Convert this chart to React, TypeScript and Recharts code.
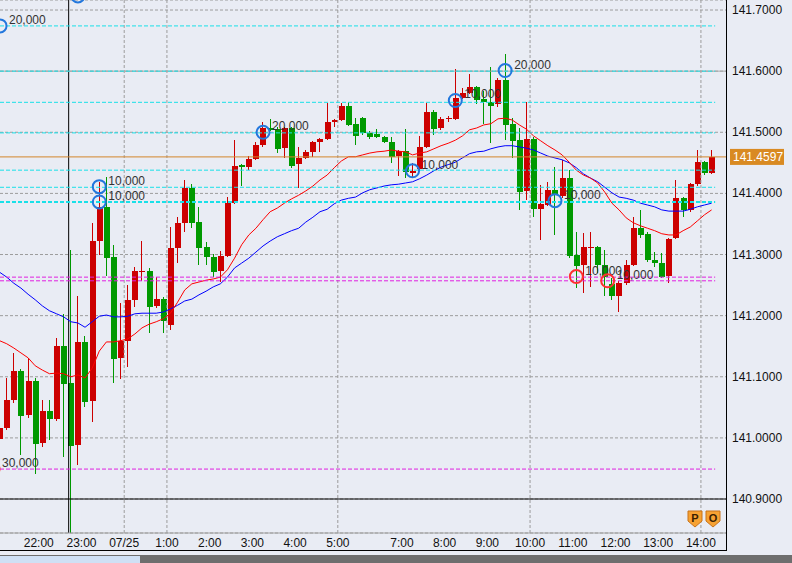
import React from "react";
import {
  ComposedChart,
  Bar,
  Line,
  XAxis,
  YAxis,
  CartesianGrid,
  ReferenceLine,
  ReferenceDot,
} from "recharts";

// 10-minute USD/JPY-style candles, 07/24 21:10 .. 07/25 14:20
const OPEN = [
  140.998, 141.016, 141.062, 141.109, 141.038, 141.093, 140.992, 141.044, 141.031, 141.15,
  141.09, 140.988, 141.157, 141.06, 141.322, 141.378, 141.296, 141.131, 141.159, 141.226,
  141.271, 141.273, 141.216, 141.227, 141.185, 141.311, 141.352, 141.409, 141.353, 141.312,
  141.296, 141.273, 141.298, 141.384, 141.447, 141.443, 141.456, 141.479, 141.507, 141.505,
  141.474, 141.507, 141.448, 141.458, 141.468, 141.484, 141.489, 141.517, 141.52, 141.543,
  141.514, 141.523, 141.499, 141.497, 141.492, 141.484, 141.461, 141.469, 141.433, 141.44,
  141.476, 141.533, 141.507, 141.522, 141.522, 141.556, 141.564, 141.574, 141.554, 141.55,
  141.546, 141.586, 141.514, 141.487, 141.404, 141.489, 141.374, 141.381, 141.406, 141.396,
  141.425, 141.299, 141.283, 141.311, 141.312, 141.283, 141.252, 141.232, 141.253, 141.283,
  141.343, 141.334, 141.291, 141.286, 141.265, 141.327, 141.392, 141.373, 141.415, 141.451,
  141.433,
];
const HIGH = [
  141.019, 141.098, 141.139, 141.113, 141.131, 141.098, 141.062, 141.062, 141.163, 141.203,
  141.307, 141.232, 141.167, 141.352, 141.419, 141.427, 141.316, 141.221, 141.25, 141.28,
  141.322, 141.278, 141.263, 141.231, 141.345, 141.361, 141.422, 141.415, 141.378, 141.32,
  141.301, 141.306, 141.394, 141.487, 141.448, 141.461, 141.484, 141.517, 141.522, 141.509,
  141.509, 141.509, 141.476, 141.471, 141.486, 141.491, 141.548, 141.522, 141.548, 141.55,
  141.523, 141.525, 141.502, 141.505, 141.494, 141.492, 141.471, 141.505, 141.45, 141.494,
  141.548, 141.536, 141.525, 141.527, 141.604, 141.572, 141.595, 141.576, 141.568, 141.607,
  141.589, 141.628, 141.523, 141.507, 141.55, 141.492, 141.414, 141.419, 141.443, 141.455,
  141.438, 141.337, 141.335, 141.337, 141.314, 141.307, 141.262, 141.257, 141.291, 141.361,
  141.373, 141.337, 141.304, 141.302, 141.327, 141.422, 141.394, 141.417, 141.471, 141.453,
  141.471,
];
const LOW = [
  140.995, 141.013, 141.057, 140.972, 141.033, 140.941, 140.985, 140.997, 141.028, 140.969,
  140.845, 140.956, 141.051, 141.026, 141.299, 141.265, 141.09, 141.096, 141.116, 141.214,
  141.257, 141.172, 141.212, 141.172, 141.177, 141.286, 141.337, 141.343, 141.283, 141.283,
  141.263, 141.255, 141.296, 141.383, 141.412, 141.438, 141.455, 141.476, 141.502, 141.466,
  141.458, 141.442, 141.409, 141.456, 141.46, 141.468, 141.487, 141.509, 141.518, 141.51,
  141.479, 141.496, 141.489, 141.491, 141.482, 141.45, 141.428, 141.425, 141.427, 141.438,
  141.474, 141.496, 141.504, 141.517, 141.52, 141.554, 141.563, 141.546, 141.514, 141.482,
  141.541, 141.487, 141.458, 141.373, 141.389, 141.361, 141.324, 141.379, 141.332, 141.392,
  141.294, 141.245, 141.237, 141.247, 141.27, 141.232, 141.226, 141.206, 141.25, 141.281,
  141.327, 141.288, 141.28, 141.262, 141.253, 141.325, 141.361, 141.37, 141.412, 141.43,
  141.432,
];
const CLOSE = [
  141.016, 141.062, 141.109, 141.036, 141.093, 140.99, 141.044, 141.031, 141.15, 141.088,
  140.987, 141.157, 141.059, 141.322, 141.378, 141.294, 141.129, 141.159, 141.226, 141.273,
  141.273, 141.214, 141.227, 141.191, 141.311, 141.352, 141.409, 141.352, 141.311, 141.296,
  141.271, 141.298, 141.384, 141.445, 141.443, 141.456, 141.479, 141.507, 141.504, 141.473,
  141.507, 141.445, 141.458, 141.468, 141.484, 141.489, 141.517, 141.52, 141.543, 141.512,
  141.494, 141.499, 141.492, 141.492, 141.484, 141.46, 141.469, 141.435, 141.437, 141.476,
  141.533, 141.505, 141.522, 141.523, 141.556, 141.564, 141.574, 141.553, 141.55, 141.543,
  141.586, 141.512, 141.486, 141.402, 141.489, 141.374, 141.383, 141.406, 141.399, 141.425,
  141.298, 141.281, 141.312, 141.312, 141.283, 141.263, 141.232, 141.253, 141.283, 141.343,
  141.332, 141.291, 141.286, 141.263, 141.325, 141.392, 141.373, 141.415, 141.451, 141.433,
  141.4597,
];
// moving averages
const MA_FAST = [
  141.159, 141.154, 141.147, 141.139, 141.131, 141.118, 141.111, 141.105, 141.106, 141.105,
  141.1, 141.103, 141.098, 141.114, 141.142, 141.157, 141.157, 141.159, 141.162, 141.17,
  141.18, 141.186, 141.19, 141.195, 141.204, 141.222, 141.242, 141.252, 141.255, 141.258,
  141.26, 141.263, 141.275, 141.294, 141.316, 141.332, 141.343, 141.357, 141.37, 141.376,
  141.384, 141.391, 141.397, 141.404, 141.412, 141.422, 141.43, 141.442, 141.453, 141.46,
  141.46, 141.463, 141.466, 141.468, 141.469, 141.471, 141.469, 141.468, 141.463, 141.466,
  141.468, 141.473, 141.478, 141.482, 141.487, 141.494, 141.504, 141.507, 141.512, 141.514,
  141.522, 141.523, 141.52, 141.512, 141.505, 141.494, 141.486, 141.478, 141.471, 141.463,
  141.451, 141.438, 141.43, 141.425, 141.417, 141.402, 141.384, 141.373, 141.36, 141.352,
  141.347, 141.343, 141.339, 141.334, 141.332, 141.332, 141.339, 141.345, 141.355, 141.365,
  141.373,
];
const MA_SLOW = [
  141.271, 141.263, 141.253, 141.245, 141.235, 141.226, 141.216, 141.208, 141.203, 141.198,
  141.19, 141.188, 141.181, 141.19, 141.199, 141.201, 141.198, 141.198, 141.199, 141.203,
  141.204, 141.204, 141.204, 141.206, 141.211, 141.217, 141.224, 141.227, 141.234, 141.24,
  141.247, 141.252, 141.263, 141.278, 141.286, 141.294, 141.304, 141.314, 141.322, 141.329,
  141.334, 141.339, 141.343, 141.353, 141.361, 141.37, 141.374, 141.383, 141.389, 141.392,
  141.394, 141.401, 141.406, 141.409, 141.412, 141.414, 141.415, 141.417, 141.419, 141.424,
  141.43, 141.437, 141.443, 141.447, 141.451, 141.458, 141.465, 141.468, 141.469, 141.473,
  141.476, 141.478, 141.478, 141.476, 141.474, 141.471, 141.466, 141.461, 141.458, 141.455,
  141.45, 141.442, 141.432, 141.425, 141.419, 141.41, 141.401, 141.394, 141.392, 141.389,
  141.384, 141.381, 141.378, 141.373, 141.371, 141.371, 141.371, 141.374, 141.378, 141.381,
  141.384,
];

const TIME_TICKS = [5.5, 11.5, 17.5, 23.5, 29.5, 35.5, 41.5, 47.5, 56.5, 62.5, 68.5, 74.5, 80.5, 86.5, 92.5, 98.5];
const TIME_LABELS = ["22:00", "23:00", "07/25", "1:00", "2:00", "3:00", "4:00", "5:00", "7:00", "8:00", "9:00", "10:00", "11:00", "12:00", "13:00", "14:00"];
const GRID_X = [17.5, 23.5, 47.5, 74.5, 98.5];
const DAY_SEPARATOR = 9.7;
const PRICE_TICKS = [140.9, 141.0, 141.1, 141.2, 141.3, 141.4, 141.5, 141.6, 141.7];

const CYAN_LEVELS = [141.674, 141.6, 141.549, 141.499, 141.438, 141.41];
const CYAN_BOLD = 141.386;
const MAGENTA_LEVELS = [141.263, 141.257, 140.949];
const HLINE_SOLID = 141.6;
const FLOOR_LINE = 140.9;
const LAST_PRICE = 141.4597;

// trade markers
const TRADE_AT = [0.06, 11, 14, 14, 37, 58, 64, 71, 78, 81, 85.4, -0.93];
const TRADE_PRICE = [141.674, 141.723, 141.411, 141.386, 141.5, 141.437, 141.552, 141.601, 141.388, 141.264, 141.257, 140.949];
const TRADE_QTY = ["20,000", "", "10,000", "10,000", "20,000", "10,000", "10,000", "20,000", "10,000", "10,000", "10,000", "30,000"];
const TRADE_SIDE = ["b", "b", "b", "b", "b", "b", "b", "b", "b", "s", "s", "s"];

const X_MIN = 0.056;
const X_MAX = 102.02;
const Y_MIN = 140.8444;
const Y_MAX = 141.7164;
const LINE_END = 100.5;

const FONT = "'Liberation Sans', Arial, sans-serif";
const UP = "#CC0000";
const DOWN = "#009900";
const CYAN = "#19E0E8";
const MAGENTA = "#E020E0";

const rows = OPEN.map((o, i) => ({
  i,
  range: [LOW[i], HIGH[i]],
  open: o,
  high: HIGH[i],
  low: LOW[i],
  close: CLOSE[i],
  fast: MA_FAST[i],
  slow: MA_SLOW[i],
}));

function Candle(props: any) {
  const { x, y, width, height, payload } = props;
  if (!payload || height == null || isNaN(y)) return null;
  const { open, close, high, low } = payload;
  const k = high > low ? height / (high - low) : 0;
  const yO = y + (high - open) * k;
  const yC = y + (high - close) * k;
  const color = close >= open ? UP : DOWN;
  const left = Math.round(x + width / 2 - 3);
  const top = Math.round(Math.min(yO, yC));
  const bh = Math.max(1, Math.round(Math.max(yO, yC)) - top);
  const wx = left + 2.5;
  return (
    <g>
      <line x1={wx} x2={wx} y1={Math.round(y)} y2={Math.round(y + height)} stroke={color} strokeWidth={1} shapeRendering="crispEdges" />
      <rect x={left} y={top} width={6} height={bh} fill={color} shapeRendering="crispEdges" />
    </g>
  );
}

function TimeTick(props: any) {
  const { x, payload } = props;
  const idx = TIME_TICKS.indexOf(payload.value);
  return (
    <text x={x} y={547} textAnchor="middle" fontSize={12} fontFamily={FONT} fill="#111">
      {TIME_LABELS[idx] ?? ""}
    </text>
  );
}

function PriceTick(props: any) {
  const { y, payload } = props;
  return (
    <text x={732} y={y + 4} fontSize={12} fontFamily={FONT} fill="#111">
      {Number(payload.value).toFixed(4)}
    </text>
  );
}

function tradeShape(side: string, qty: string) {
  return (p: any) => (
    <g>
      <circle cx={p.cx} cy={p.cy} r={6.5} fill="none" stroke={side === "s" ? "#FF3030" : "#2277DD"} strokeWidth={2} />
      {qty && (
        <text x={p.cx + 9} y={p.cy - 2} fontSize={12} fontFamily={FONT} fill="#333">
          {qty}
        </text>
      )}
    </g>
  );
}

function PriceLabel(props: any) {
  const vb = props.viewBox || {};
  return (
    <g>
      <rect x={730} y={vb.y - 8} width={54} height={16} fill="#D98A22" />
      <text x={733} y={vb.y + 4} fontSize={12} fontFamily={FONT} fill="#fff">
        {LAST_PRICE.toFixed(4)}
      </text>
    </g>
  );
}

export default function App() {
  return (
    <div style={{ position: "absolute", left: 0, top: 0, width: 792, height: 563, background: "#E9ECF4", overflow: "hidden" }}>
      <ComposedChart width={792} height={550} data={rows} margin={{ top: 0, right: 0, bottom: 0, left: 0 }}>
        <CartesianGrid vertical={false} stroke="#9C9C9C" strokeDasharray="3 2" />
        <XAxis
          dataKey="i"
          type="number"
          domain={[X_MIN, X_MAX]}
          allowDataOverflow
          ticks={TIME_TICKS}
          interval={0}
          height={17}
          tickLine={false}
          axisLine={{ stroke: "#A0A0A0" }}
          tick={<TimeTick />}
        />
        <YAxis
          orientation="right"
          type="number"
          domain={[Y_MIN, Y_MAX]}
          allowDataOverflow
          ticks={PRICE_TICKS}
          interval={0}
          width={66}
          tickLine={false}
          axisLine={false}
          tick={<PriceTick />}
        />
        {GRID_X.map((g) => (
          <ReferenceLine key={"gx" + g} x={g} stroke="#9C9C9C" strokeDasharray="3 2" />
        ))}
        <ReferenceLine x={DAY_SEPARATOR} stroke="#000" />
        <ReferenceLine y={HLINE_SOLID} stroke="#A8A8A8" />
        <ReferenceLine y={FLOOR_LINE} stroke="#000" />
        <Bar dataKey="range" barSize={6} shape={<Candle />} isAnimationActive={false} />
        <Line dataKey="slow" stroke="#0000FF" strokeWidth={1} dot={false} isAnimationActive={false} />
        <Line dataKey="fast" stroke="#FF0000" strokeWidth={1} dot={false} isAnimationActive={false} />
        {CYAN_LEVELS.map((v) => (
          <ReferenceLine
            key={"c" + v}
            segment={[{ x: X_MIN, y: v }, { x: LINE_END, y: v }]}
            stroke={CYAN}
            strokeDasharray="4 2"
          />
        ))}
        <ReferenceLine
          segment={[{ x: X_MIN, y: CYAN_BOLD }, { x: LINE_END, y: CYAN_BOLD }]}
          stroke={CYAN}
          strokeWidth={2}
          strokeDasharray="4 2"
        />
        {MAGENTA_LEVELS.map((v) => (
          <ReferenceLine
            key={"m" + v}
            segment={[{ x: X_MIN, y: v }, { x: LINE_END, y: v }]}
            stroke={MAGENTA}
            strokeDasharray="4 2"
          />
        ))}
        <ReferenceLine y={LAST_PRICE} stroke="#D4862B" label={PriceLabel} />
        {TRADE_AT.map((t, k) => (
          <ReferenceDot
            key={"t" + k}
            x={t}
            y={TRADE_PRICE[k]}
            r={6.5}
            ifOverflow="visible"
            shape={tradeShape(TRADE_SIDE[k], TRADE_QTY[k])}
          />
        ))}
      </ComposedChart>
      {/* frame, window strip and P/O badges */}
      <div style={{ position: "absolute", left: 726, top: 0, width: 1, height: 551, background: "#000" }} />
      <div style={{ position: "absolute", left: 0, top: 550, width: 727, height: 1, background: "#000" }} />
      <div style={{ position: "absolute", left: 0, top: 555, width: 792, height: 8, background: "#6E6E6E" }} />
      <div style={{ position: "absolute", left: 0, top: 556, width: 140, height: 7, background: "#CFE0F5" }} />
      <svg style={{ position: "absolute", left: 0, top: 0 }} width={792} height={563}>
        {[["P", 688], ["O", 706]].map(([s, x0]) => (
          <g key={s as string}>
            <path
              d={`M${x0},511 h14 v10 l-7,6 l-7,-6 z`}
              fill="#F7A233"
              stroke="#C8731A"
              strokeWidth={1}
            />
            <text x={(x0 as number) + 7} y={522} textAnchor="middle" fontSize={11} fontWeight="bold" fontFamily={FONT} fill="#3A2000">
              {s}
            </text>
          </g>
        ))}
      </svg>
    </div>
  );
}
